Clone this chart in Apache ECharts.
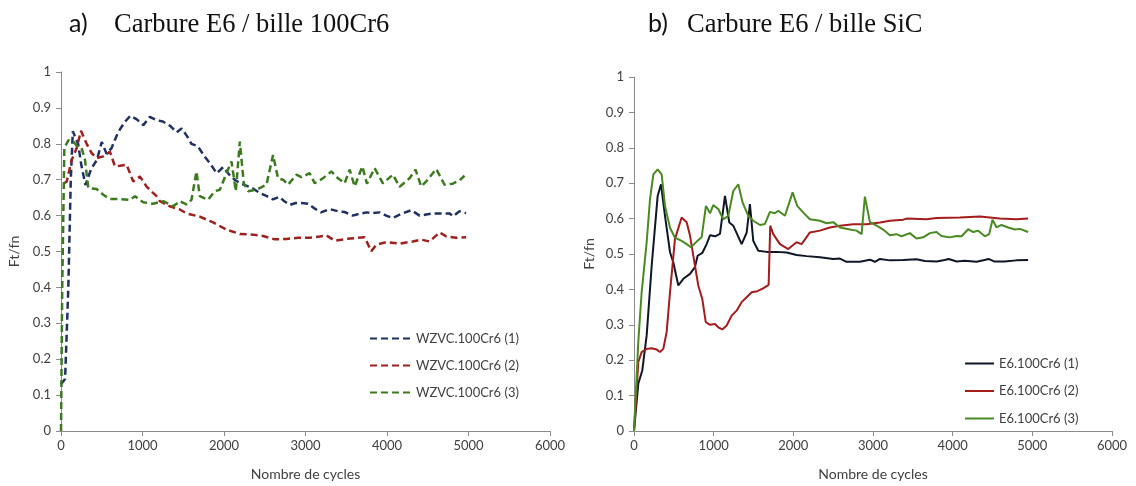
<!DOCTYPE html>
<html>
<head>
<meta charset="utf-8">
<script src="https://cdn.jsdelivr.net/npm/echarts@6/dist/echarts.min.js"></script>
<style>
  html, body { margin: 0; padding: 0; background: #fff; }
  #main { width: 1136px; height: 486px; }
</style>
</head>
<body>
<div id="main"></div>
<script>
// --- data: [cycles, Ft/fn] ---
var xTicks = [0, 1000, 2000, 3000, 4000, 5000, 6000];
var yTicks = [0, 0.1, 0.2, 0.3, 0.4, 0.5, 0.6, 0.7, 0.8, 0.9, 1];

// a) Carbure E6 / bille 100Cr6
var namesA = ['WZVC.100Cr6 (1)', 'WZVC.100Cr6 (2)', 'WZVC.100Cr6 (3)'];
var wzvc1 = [[0,0.13],[50,0.145],[90,0.4],[120,0.7],[145,0.835],[210,0.8],[250,0.74],[300,0.685],[370,0.73],[440,0.755],
  [500,0.805],[560,0.772],[620,0.788],[700,0.832],[780,0.86],[850,0.878],[930,0.868],[1010,0.852],[1090,0.875],[1170,0.866],
  [1250,0.862],[1340,0.85],[1420,0.832],[1480,0.843],[1550,0.82],[1600,0.8],[1680,0.793],[1760,0.765],[1830,0.745],[1910,0.718],
  [1990,0.735],[2060,0.715],[2130,0.7],[2200,0.69],[2280,0.683],[2360,0.675],[2440,0.663],[2520,0.655],[2600,0.645],[2680,0.652],
  [2740,0.64],[2810,0.63],[2880,0.635],[2950,0.635],[3030,0.633],[3110,0.62],[3190,0.609],[3300,0.618],[3400,0.612],[3480,0.61],
  [3580,0.6],[3660,0.605],[3750,0.609],[3830,0.607],[3910,0.609],[3990,0.6],[4070,0.593],[4130,0.6],[4200,0.607],[4300,0.615],
  [4400,0.6],[4480,0.603],[4560,0.606],[4660,0.606],[4770,0.606],[4810,0.598],[4890,0.612],[4970,0.607]];
var wzvc2 = [[40,0.69],[70,0.695],[131,0.755],[192,0.788],[245,0.836],[315,0.8],[376,0.774],[437,0.76],[519,0.765],[600,0.778],
  [662,0.737],[723,0.739],[805,0.742],[886,0.695],[968,0.709],[1050,0.681],[1172,0.654],[1213,0.64],[1336,0.626],[1458,0.617],
  [1540,0.606],[1703,0.597],[1867,0.581],[2030,0.561],[2194,0.549],[2357,0.547],[2479,0.543],[2623,0.534],[2766,0.535],[2908,0.538],
  [3051,0.538],[3174,0.542],[3256,0.545],[3358,0.53],[3501,0.535],[3644,0.538],[3725,0.54],[3807,0.501],[3869,0.519],[3991,0.526],
  [4154,0.522],[4317,0.528],[4420,0.533],[4522,0.528],[4645,0.553],[4727,0.542],[4849,0.538],[4971,0.54]];
var wzvc3 = [[0,0],[15,0.4],[41,0.788],[90,0.81],[151,0.806],[212,0.79],[253,0.788],[294,0.756],[335,0.677],[437,0.674],
  [519,0.658],[600,0.646],[723,0.646],[846,0.644],[907,0.654],[1009,0.637],[1131,0.633],[1254,0.64],[1377,0.626],[1458,0.64],
  [1540,0.631],[1601,0.644],[1662,0.723],[1703,0.654],[1805,0.644],[1887,0.668],[1949,0.672],[2030,0.718],[2092,0.751],[2145,0.668],
  [2194,0.806],[2243,0.69],[2296,0.668],[2398,0.672],[2521,0.686],[2602,0.769],[2663,0.704],[2725,0.7],[2786,0.686],[2888,0.714],
  [2949,0.707],[3051,0.718],[3113,0.69],[3215,0.704],[3317,0.723],[3399,0.704],[3480,0.69],[3542,0.728],[3603,0.681],[3697,0.737],
  [3754,0.689],[3848,0.732],[3950,0.69],[4073,0.714],[4154,0.68],[4277,0.704],[4350,0.728],[4420,0.681],[4481,0.695],[4603,0.73],
  [4706,0.686],[4808,0.689],[4890,0.698],[4951,0.711]];

// b) Carbure E6 / bille SiC
var namesB = ['E6.100Cr6 (1)', 'E6.100Cr6 (2)', 'E6.100Cr6 (3)'];
var e6s1 = [[0,0],[54,0.134],[104,0.171],[159,0.27],[222,0.467],[297,0.664],[339,0.697],[389,0.608],[452,0.505],[494,0.476],
  [556,0.411],[619,0.43],[703,0.444],[765,0.463],[799,0.495],[857,0.503],[912,0.528],[954,0.553],[1016,0.55],[1079,0.557],
  [1142,0.664],[1196,0.589],[1246,0.58],[1351,0.528],[1414,0.56],[1455,0.641],[1497,0.537],[1560,0.509],[1665,0.506],[1790,0.506],
  [1916,0.504],[2041,0.497],[2167,0.494],[2334,0.491],[2501,0.486],[2585,0.487],[2668,0.478],[2836,0.478],[2961,0.484],[3024,0.478],
  [3087,0.486],[3212,0.482],[3380,0.483],[3546,0.485],[3650,0.48],[3800,0.479],[3900,0.483],[3950,0.486],[4050,0.479],[4150,0.481],
  [4300,0.478],[4400,0.483],[4450,0.486],[4520,0.479],[4650,0.479],[4800,0.482],[4947,0.483]];
var e6s2 = [[0,0],[54,0.195],[96,0.223],[159,0.232],[222,0.234],[285,0.23],[326,0.223],[368,0.232],[410,0.28],[452,0.392],
  [514,0.542],[598,0.603],[661,0.59],[703,0.552],[765,0.467],[807,0.411],[857,0.373],[900,0.308],[954,0.3],[1016,0.302],
  [1058,0.293],[1108,0.287],[1163,0.298],[1226,0.326],[1288,0.34],[1351,0.364],[1414,0.378],[1477,0.392],[1550,0.395],[1620,0.403],
  [1690,0.413],[1710,0.58],[1748,0.556],[1832,0.528],[1936,0.514],[2041,0.533],[2104,0.528],[2208,0.561],[2334,0.566],[2459,0.575],
  [2585,0.58],[2752,0.584],[2919,0.584],[3087,0.589],[3212,0.594],[3379,0.597],[3421,0.6],[3672,0.598],[3797,0.602],[4090,0.603],
  [4341,0.606],[4592,0.6],[4802,0.598],[4947,0.6]];
var e6s3 = [[0,0],[54,0.252],[96,0.392],[159,0.533],[201,0.655],[243,0.725],[297,0.739],[347,0.725],[389,0.636],[452,0.574],
  [514,0.546],[598,0.537],[661,0.528],[715,0.519],[787,0.535],[849,0.547],[903,0.636],[954,0.615],[995,0.638],[1058,0.627],
  [1121,0.598],[1184,0.608],[1246,0.678],[1309,0.697],[1364,0.645],[1434,0.608],[1497,0.594],[1581,0.582],[1644,0.585],[1706,0.619],
  [1769,0.615],[1811,0.622],[1895,0.608],[1991,0.674],[2049,0.636],[2125,0.617],[2208,0.598],[2334,0.594],[2418,0.587],[2501,0.59],
  [2585,0.575],[2710,0.569],[2794,0.566],[2857,0.556],[2898,0.662],[2961,0.59],[3045,0.58],[3128,0.569],[3212,0.553],[3295,0.556],
  [3358,0.55],[3463,0.559],[3546,0.544],[3630,0.547],[3714,0.559],[3797,0.562],[3860,0.551],[3965,0.547],[4049,0.551],[4112,0.55],
  [4195,0.57],[4258,0.562],[4321,0.566],[4404,0.55],[4458,0.556],[4500,0.597],[4551,0.575],[4613,0.582],[4697,0.575],[4780,0.569],
  [4843,0.571],[4947,0.562]];

var colorsA = ['#1f3163', '#a0201e', '#3b7a1f'];
var colorsB = ['#0f1626', '#a51c1c', '#4a8a22'];

var txt = '#404040';
var axisCol = '#8c8c8c';
var font = 'Lato';

function xAx(idx) {
    return {
        gridIndex: idx, type: 'value', min: xTicks[0], max: xTicks[xTicks.length - 1], interval: 1000,
        name: 'Nombre de cycles', nameLocation: 'middle', nameGap: 36,
        nameTextStyle: { color: txt, fontFamily: font, fontSize: 14 },
        axisLine: { show: true, lineStyle: { color: axisCol } },
        axisTick: { show: true, length: 5, lineStyle: { color: axisCol } },
        axisLabel: { color: txt, fontFamily: font, fontSize: 13, margin: 8, formatter: function (v) { return String(v); } },
        splitLine: { show: false }
    };
}
function yAx(idx, gap) {
    return {
        gridIndex: idx, type: 'value', min: yTicks[0], max: yTicks[yTicks.length - 1], interval: 0.1,
        name: 'Ft/fn', nameLocation: 'middle', nameGap: gap,
        nameTextStyle: { color: txt, fontFamily: font, fontSize: 14 },
        axisLine: { show: true, lineStyle: { color: axisCol } },
        axisTick: { show: true, length: 5, lineStyle: { color: axisCol } },
        axisLabel: { color: txt, fontFamily: font, fontSize: 13, margin: 10 },
        splitLine: { show: false }
    };
}
function line(name, data, color, idx, dashed) {
    return {
        name: name, type: 'line', xAxisIndex: idx, yAxisIndex: idx, data: data,
        symbol: 'none', animation: false,
        lineStyle: { color: color, width: dashed ? 2.5 : 2, type: dashed ? [7, 4] : 'solid' },
        itemStyle: { color: color }
    };
}

var chart = echarts.init(document.getElementById('main'));
chart.setOption({
    backgroundColor: '#fff',
    animation: false,
    grid: [
        { left: 61, right: 586, top: 72, bottom: 54 },
        { left: 634, right: 24, top: 77, bottom: 53 }
    ],
    xAxis: [xAx(0), xAx(1)],
    yAxis: [yAx(0, 40), yAx(1, 38)],
    legend: [
        { data: namesA, orient: 'vertical', left: 369, top: 332, padding: 0, itemWidth: 41, itemHeight: 14, itemGap: 14,
          itemStyle: { opacity: 0 },
          textStyle: { color: txt, fontFamily: font, fontSize: 13 } },
        { data: namesB, orient: 'vertical', left: 964, top: 357, padding: 0, itemWidth: 29, itemHeight: 14, itemGap: 14.5,
          itemStyle: { opacity: 0 },
          textStyle: { color: txt, fontFamily: font, fontSize: 13 } }
    ],
    graphic: [
        { type: 'text', left: 69, top: 11, style: { text: 'a)', font: '25px Lato', fill: '#111' } },
        { type: 'text', left: 114, top: 12, style: { text: 'Carbure E6 / bille 100Cr6', font: '26.5px "Liberation Serif"', fill: '#111' } },
        { type: 'text', left: 648, top: 11, style: { text: 'b)', font: '25px Lato', fill: '#111' } },
        { type: 'text', left: 687, top: 12, style: { text: 'Carbure E6 / bille SiC', font: '26.5px "Liberation Serif"', fill: '#111' } }
    ],
    series: [
        line(namesA[0], wzvc1, colorsA[0], 0, true),
        line(namesA[1], wzvc2, colorsA[1], 0, true),
        line(namesA[2], wzvc3, colorsA[2], 0, true),
        line(namesB[0], e6s1, colorsB[0], 1, false),
        line(namesB[1], e6s2, colorsB[1], 1, false),
        line(namesB[2], e6s3, colorsB[2], 1, false)
    ]
});
</script>
</body>
</html>
